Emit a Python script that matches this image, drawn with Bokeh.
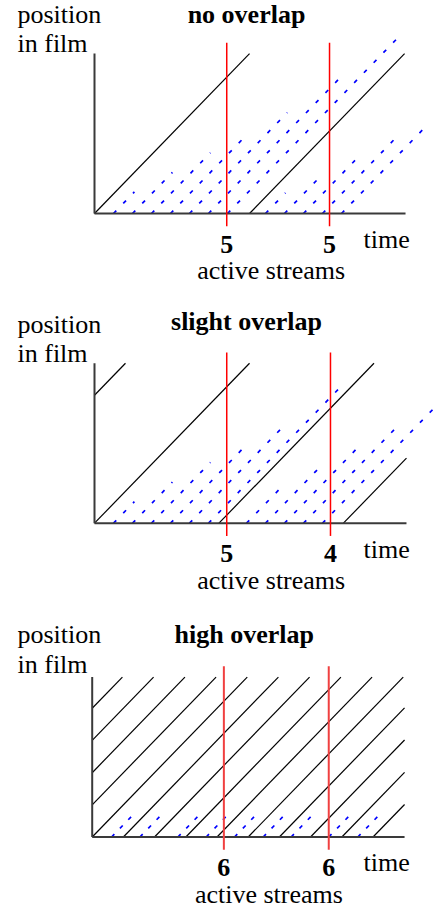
import numpy as np
from bokeh.plotting import figure
from bokeh.layouts import column
from bokeh.models import Range1d
from bokeh.core.properties import value
from bokeh.embed import file_html
from bokeh.resources import INLINE

# ---------------- data (time / position units) ----------------
FILM_LENGTH = 8.16

# panel 1: no overlap
p1_title = "no overlap"
p1_full_starts = [0.0, 8.16]
p1_patch_starts = [1, 2, 3, 4, 5, 6, 7, 9, 10, 11, 12, 13]
p1_patch_ends = [2.1, 4.1, 6.1, 8.1, 10.15, 13.0, 16.0, 10.05, 12.0, 14.0, 16.05, 17.45]
p1_sample_times = [6.96, 12.37]
p1_active = ["5", "5"]
p1_time_end = 16.37

# panel 2: slight overlap
p2_title = "slight overlap"
p2_full_starts = [-6.53, 0.0, 6.55, 13.1]
p2_patch_starts = [1, 2, 3, 4, 5, 6, 8, 9, 10, 11, 12]
p2_patch_ends = [2.1, 4.1, 6.1, 8.1, 10.1, 13.05, 10.05, 12.05, 14.05, 16.05, 18.5]
p2_sample_times = [6.96, 12.42]
p2_active = ["5", "4"]
p2_time_end = 16.42

# panel 3: high overlap
p3_title = "high overlap"
p3_full_starts = [-6.57, -4.93, -3.28, -1.64, 0.0, 1.64, 3.28, 4.93, 6.57,
                  8.21, 9.85, 11.49, 13.14, 14.78]
p3_patch_starts = [1.02, 2.51, 4.51, 6.0, 7.49, 9.0, 10.47, 12.45, 13.98]
p3_patch_ends = [2.12, 3.61, 5.61, 7.1, 8.59, 10.1, 11.57, 13.55, 15.08]
p3_sample_times = [6.93, 12.45]
p3_active = ["6", "6"]
p3_time_end = 16.44

PX = 19.0   # pixels per time unit
PY = 19.6   # pixels per position unit
FONT = value("Liberation Serif")
W = 433
TEXT_LIFT = 7.5 / PY


def make_panel(title, full_starts, patch_starts, patch_ends, sample_times, active,
               time_end, ox, oy, top, bottom, dash, red_color, red_width,
               pos_base, film_base, title_base):
    p = figure(width=W, height=bottom - top,
               x_range=Range1d((0 - ox) / PX, (W - ox) / PX),
               y_range=Range1d((oy - bottom) / PY, (oy - top) / PY),
               output_backend="svg", toolbar_location=None, min_border=0,
               x_axis_location=None, y_axis_location=None,
               outline_line_color=None, background_fill_color="white",
               border_fill_color="white")
    p.grid.visible = False
    L = FILM_LENGTH

    # patch streams (blue, dashed)
    ps = np.array(patch_starts, dtype=float)
    pe = np.array(patch_ends, dtype=float)
    p.segment(x0=ps, y0=np.zeros_like(ps), x1=pe, y1=pe - ps,
              line_color="#0000ff", line_width=1.7, line_dash=dash)

    # full streams (black), clipped to the time axis
    fs = np.array(full_starts, dtype=float)
    x0 = np.maximum(fs, 0.0)
    x1 = np.minimum(fs + L, time_end)
    p.segment(x0=x0, y0=x0 - fs, x1=x1, y1=x1 - fs,
              line_color="black", line_width=1.2)

    # axes
    p.segment(x0=[0, 0], y0=[0, 0], x1=[time_end, 0], y1=[0, L],
              line_color="#3a3a3a", line_width=2)

    # sample times (red)
    st = np.array(sample_times, dtype=float)
    p.segment(x0=st, y0=np.full_like(st, -0.65), x1=st, y1=np.full_like(st, L + 0.55),
              line_color=red_color, line_width=red_width)

    # texts
    lift = TEXT_LIFT
    p.text(x=[(17 - ox) / PX, (17 - ox) / PX],
           y=[(oy - pos_base) / PY + lift, (oy - film_base) / PY + lift],
           text=["position", "in film"], text_font=FONT, text_font_size="26px",
           text_align="left", text_baseline="alphabetic", text_color="black")
    p.text(x=[8.0], y=[(oy - title_base) / PY + lift], text=[title], text_font=FONT,
           text_font_size="26px", text_font_style="bold", text_align="center",
           text_baseline="alphabetic", text_color="black")
    p.text(x=st, y=np.full_like(st, -1.95 + lift), text=active, text_font=FONT,
           text_font_size="26px", text_font_style="bold", text_align="center",
           text_baseline="alphabetic", text_color="black")
    p.text(x=[(363 - ox) / PX], y=[-1.7 + lift], text=["time"], text_font=FONT,
           text_font_size="26px", text_align="left", text_baseline="alphabetic",
           text_color="black")
    p.text(x=[9.3], y=[-3.3 + lift], text=["active streams"], text_font=FONT,
           text_font_size="26px", text_align="center", text_baseline="alphabetic",
           text_color="black")
    return p


# origin rows in page pixels: 213, 522.7, 836.5
p1 = make_panel(p1_title, p1_full_starts, p1_patch_starts, p1_patch_ends, p1_sample_times,
                p1_active, p1_time_end, 94, 213, 0, 292, "4 10", "#ff0000", 1.5,
                21.5, 50.7, 21)
p2 = make_panel(p2_title, p2_full_starts, p2_patch_starts, p2_patch_ends, p2_sample_times,
                p2_active, p2_time_end, 94, 522.7, 292, 600, "4 10", "#ff0000", 1.5,
                331.7, 360.7, 328.3)
p3 = make_panel(p3_title, p3_full_starts, p3_patch_starts, p3_patch_ends, p3_sample_times,
                p3_active, p3_time_end, 91.7, 836.5, 600, 913, "4 8", "#f04040", 2,
                641, 671.7, 641.7)

layout = column(p1, p2, p3, spacing=0)
open("out.html", "w").write(file_html(layout, INLINE))
